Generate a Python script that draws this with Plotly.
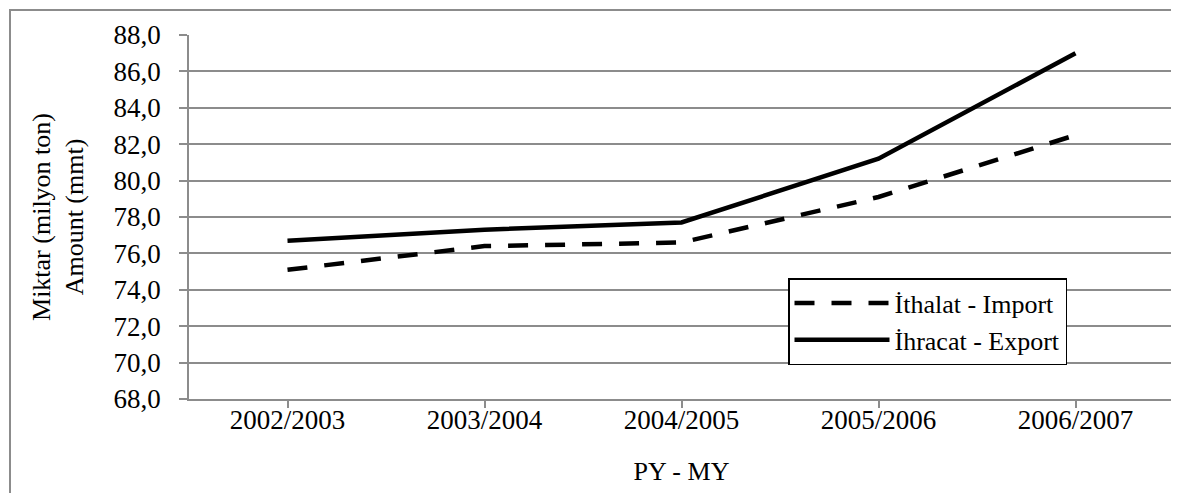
import plotly.graph_objects as go

seasons = ["2002/2003", "2003/2004", "2004/2005", "2005/2006", "2006/2007"]
import_vals = [75.1, 76.4, 76.6, 79.1, 82.5]
export_vals = [76.7, 77.3, 77.7, 81.2, 87.0]
import_name = "İthalat - Import"
export_name = "İhracat - Export"
y_title = "Miktar (milyon ton)<br>Amount (mmt)"
x_title = "PY - MY"

W, H = 1179, 493
ML, MR, MT, MB = 181, 13, 27, 102
PW, PH = W - ML - MR, H - MT - MB
GRID = "#8c8c8c"
FAM = "Liberation Serif"
F26 = dict(family=FAM, size=26, color="black")
F27 = dict(family=FAM, size=27, color="black")

fig = go.Figure()
fig.add_trace(go.Scatter(x=seasons, y=import_vals, name=import_name, mode="lines",
                         line=dict(color="black", width=4.5, dash="20px,17px")))
fig.add_trace(go.Scatter(x=seasons, y=export_vals, name=export_name, mode="lines",
                         line=dict(color="black", width=4.5)))

fig.update_layout(
    width=W, height=H,
    margin=dict(l=ML, r=MR, t=MT, b=MB, autoexpand=False),
    paper_bgcolor="white", plot_bgcolor="white",
    font=F26,
    separators=",.",
    showlegend=True,
    legend=dict(
        x=(780 - ML) / PW, y=(H - MB - 270) / PH, xanchor="left", yanchor="top",
        bordercolor="black", borderwidth=1.5, bgcolor="white",
        font=dict(family=FAM, size=26, color="black"),
        itemwidth=95, tracegroupgap=0,
    ),
    xaxis=dict(
        type="category", range=[-0.5, 4.5],
        showline=True, linecolor=GRID, linewidth=1.5,
        ticks="outside", ticklen=7, tickcolor=GRID, tickwidth=1.5,
        tickfont=F27, ticklabelstandoff=-11,
        showgrid=False, zeroline=False,
        title=dict(text=x_title, font=F26, standoff=28),
    ),
    yaxis=dict(
        range=[68, 88], dtick=2, tickformat=".1f",
        showline=True, linecolor=GRID, linewidth=1.5,
        ticks="outside", ticklen=8, tickcolor=GRID, tickwidth=1.5,
        tickfont=F27, ticklabelstandoff=13,
        showgrid=True, gridcolor=GRID, gridwidth=1.5, zeroline=False,
        title=dict(text=y_title, font=F26, standoff=22),
    ),
    shapes=[
        dict(type="line", xref="paper", yref="paper", x0=1, x1=1, y0=0, y1=-7 / PH,
             line=dict(color=GRID, width=1.5)),
        dict(type="rect", xref="paper", yref="paper",
             x0=(2 - ML) / PW, x1=(W - 3 - ML) / PW,
             y0=-(MB - 2) / PH, y1=1 + (MT - 2) / PH,
             line=dict(color=GRID, width=2), layer="below"),
    ],
)

fig.write_html("out.html")
